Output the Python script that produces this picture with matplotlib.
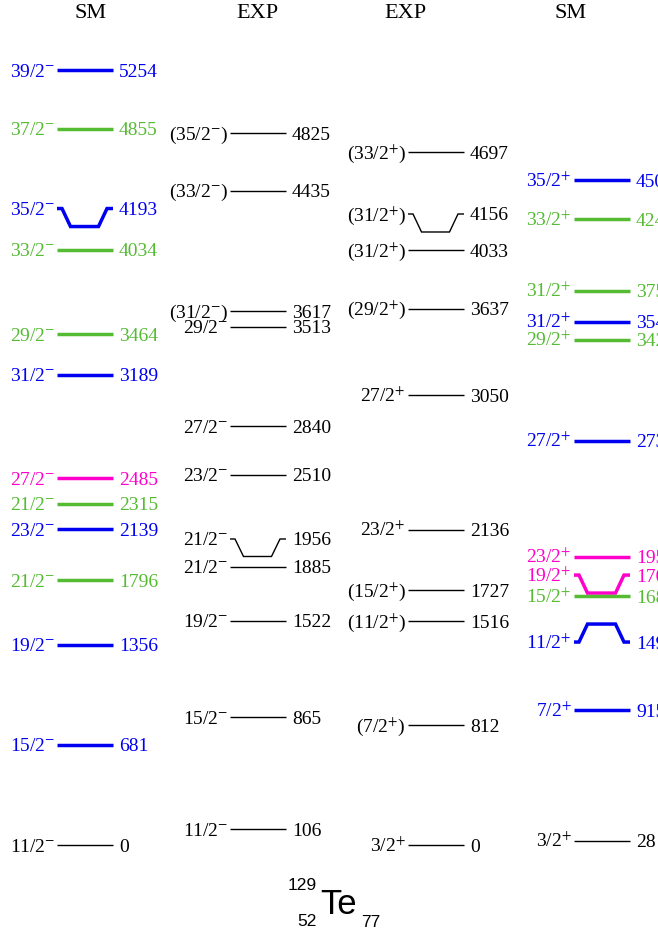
import matplotlib
matplotlib.use("Agg")
import matplotlib.pyplot as plt
from matplotlib.transforms import offset_copy

plt.rcParams['font.family'] = ['Liberation Serif', 'DejaVu Serif']
plt.rcParams['mathtext.fontset'] = 'stix'

# level schemes (keV)
headers = ['SM', 'EXP', 'EXP', 'SM']

sm_neg_spins = ['39/2-', '37/2-', '35/2-', '33/2-', '29/2-', '31/2-', '27/2-',
                '21/2-', '23/2-', '21/2-', '19/2-', '15/2-', '11/2-']
sm_neg_energies = [5254, 4855, 4193, 4034, 3464, 3189, 2485,
                   2315, 2139, 1796, 1356, 681, 0]

exp_neg_spins = ['(35/2-)', '(33/2-)', '(31/2-)', '29/2-', '27/2-', '23/2-',
                 '21/2-', '21/2-', '19/2-', '15/2-', '11/2-']
exp_neg_energies = [4825, 4435, 3617, 3513, 2840, 2510,
                    1956, 1885, 1522, 865, 106]

exp_pos_spins = ['(33/2+)', '(31/2+)', '(31/2+)', '(29/2+)', '27/2+', '23/2+',
                 '(15/2+)', '(11/2+)', '(7/2+)', '3/2+']
exp_pos_energies = [4697, 4156, 4033, 3637, 3050, 2136, 1727, 1516, 812, 0]

sm_pos_spins = ['35/2+', '33/2+', '31/2+', '31/2+', '29/2+', '27/2+',
                '23/2+', '19/2+', '15/2+', '11/2+', '7/2+', '3/2+']
sm_pos_energies = [4508, 4244, 3756, 3546, 3424, 2739,
                   1953, 1708, 1688, 1498, 915, 28]

# styling
B, G, M, K = '#0000f0', '#55bb33', '#ff00cc', 'black'
sm_neg_colors = [B, G, B, G, G, B, M, G, B, G, B, B, K]
sm_pos_colors = [B, G, G, B, G, B, M, M, G, B, B, K]

W, H = 658, 935
Y0 = 845            # pixel row of E = 0
PX_PER_KEV = 0.1475
LINE_W = 56
FS = 14

fig = plt.figure(figsize=(W / 100, H / 100), dpi=100)
ax = fig.add_axes([0, 0, 1, 1])
ax.set_xlim(0, W)
ax.set_ylim(-(H - Y0) / PX_PER_KEV, Y0 / PX_PER_KEV)
ax.axis('off')

label_tr = offset_copy(ax.transData, fig=fig, y=-6.5, units='dots')


def spin_tex(s):
    open_p = s.startswith('(')
    core = s.strip('()')
    txt = core[:-1] + r'$^{' + core[-1] + '}$'
    return '(' + txt + ')' if open_p else txt


def draw_column(x0, spins, energies, colors, kinks):
    for i, (sp, e, c) in enumerate(zip(spins, energies, colors)):
        lw = 1.0 if c == K else 2.5
        s = kinks.get(i, 0) / PX_PER_KEV
        if s:
            xs = [x0, x0 + 5, x0 + 13.5, x0 + 41.5, x0 + 50, x0 + LINE_W]
            ys = [e + s, e + s, e, e, e + s, e + s]
        else:
            xs = [x0, x0 + LINE_W]
            ys = [e, e]
        ax.plot(xs, ys, color=c, lw=lw, solid_capstyle='butt',
                solid_joinstyle='miter')
        ax.text(x0 - 2, e + s, spin_tex(sp), color=c, fontsize=FS,
                ha='right', va='baseline', transform=label_tr)
        ax.text(x0 + LINE_W + 6, e + s, str(e), color=c, fontsize=FS,
                ha='left', va='baseline', transform=label_tr)


draw_column(57, sm_neg_spins, sm_neg_energies, sm_neg_colors, {2: 18})
draw_column(230, exp_neg_spins, exp_neg_energies,
            [K] * len(exp_neg_spins), {6: 17.5})
draw_column(408, exp_pos_spins, exp_pos_energies,
            [K] * len(exp_pos_spins), {1: 18})
draw_column(574, sm_pos_spins, sm_pos_energies, sm_pos_colors,
            {7: 18, 9: -18})

for hx, h in zip([91, 257, 405, 571], headers):
    fig.text(hx / W, 1 - 13 / H, h, fontsize=16, ha='center', va='center')

# nucleus label
sans = 'Liberation Sans'
fig.text(320 / W, 1 - 914 / H, 'Te', fontsize=25, family=sans,
         ha='left', va='baseline')
fig.text(317 / W, 1 - 890 / H, '129', fontsize=12.5, family=sans,
         ha='right', va='baseline')
fig.text(317 / W, 1 - 926 / H, '52', fontsize=12.5, family=sans,
         ha='right', va='baseline')
fig.text(361 / W, 1 - 927 / H, '77', fontsize=12.5, family=sans,
         ha='left', va='baseline')

fig.savefig('out.png', dpi=100)
